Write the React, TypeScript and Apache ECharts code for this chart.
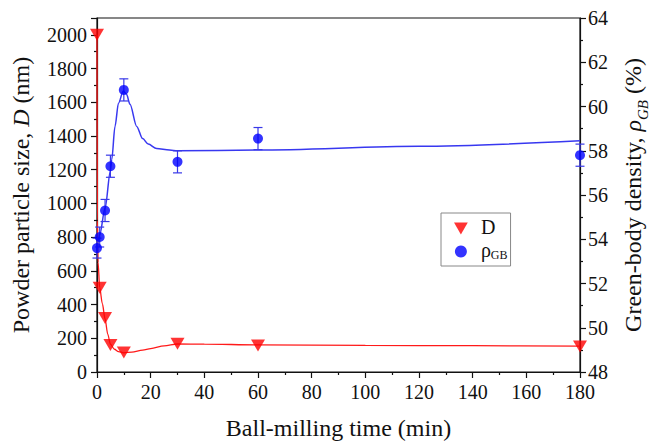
import React, { useEffect, useRef } from "react";
import * as echarts from "echarts";

const times = [0, 1, 3, 5, 10, 30, 60, 180];
const particleSize = [2000, 500, 320, 160, 115, 168, 157, 152];
const density = [53.6, 54.1, 55.3, 57.3, 60.75, 57.5, 58.55, 57.8];
const densityErr = [0.45, 0.45, 0.5, 0.5, 0.5, 0.5, 0.5, 0.5];

const sizeFitTimes = [0, 0.15, 0.4, 1, 2, 3, 4, 5, 6.5, 8, 10, 13, 17, 20, 25, 30, 40, 60, 100, 140, 180];
const sizeFitValues = [2000, 900, 650, 500, 405, 315, 225, 165, 135, 121, 114, 118, 130, 139, 155, 166, 165, 161, 158, 156, 154];

const densityFitTimes = [0, 1, 3, 5, 5.5, 6.7, 8, 9.8, 11, 12.3, 14.8, 17, 19.1, 22.2, 27, 30, 60, 120, 180];
const densityFitValues = [53.5, 54.2, 55.4, 57.1, 57.6, 59.1, 60.15, 60.7, 60.55, 60.1, 59.1, 58.55, 58.3, 58.1, 58.03, 58.0, 58.03, 58.2, 58.45];

const FONT = "Times New Roman";
const TRI = "path://M0,0L10,0L5,8.7Z";
const RED = "#ff0000";
const BLUE = "#0000ff";
const plain = (v: number) => String(v);
const TXT = "#111111";

export default function App() {
  const ref = useRef<HTMLDivElement>(null);
  useEffect(() => {
    if (!ref.current) return;
    const chart = echarts.init(ref.current, null, { renderer: "svg" });
    const lineStyle = { color: TXT, width: 1.2 };
    const tickLabel = { color: TXT, fontSize: 20, fontFamily: FONT, formatter: plain };
    chart.setOption({
      animation: false,
      grid: {
        left: 97, right: 75, top: 18, bottom: 70,
        outerBoundsMode: "none",
        show: true, borderColor: TXT, borderWidth: 1.2,
      },
      legend: {
        data: [
          { name: "D", icon: TRI },
          { name: "rho", icon: "circle" },
        ],
        orient: "vertical",
        left: 441,
        top: 213,
        padding: [4, 3, 3, 13],
        itemGap: 0,
        itemWidth: 14,
        itemHeight: 12,
        borderColor: "#888888",
        borderWidth: 1,
        formatter: (n: string) => (n === "D" ? "{t|D}" : "{t|ρ}{s|GB}"),
        textStyle: {
          color: TXT,
          fontFamily: FONT,
          fontSize: 20,
          rich: {
            t: { fontSize: 20, fontFamily: FONT, color: TXT, lineHeight: 18, padding: [0, 0, 3, 8] },
            s: { fontSize: 12, fontFamily: FONT, color: TXT, lineHeight: 12, verticalAlign: "bottom" },
          },
        },
      },
      xAxis: {
        type: "value",
        min: 0,
        max: 180,
        interval: 20,
        name: "Ball-milling time (min)",
        nameLocation: "middle",
        nameGap: 44,
        nameTextStyle: { fontSize: 24, fontFamily: FONT, color: TXT },
        axisLine: { lineStyle },
        axisTick: { show: true, length: 6, lineStyle },
        minorTick: { show: true, splitNumber: 2, length: 3, lineStyle },
        splitLine: { show: false },
        axisLabel: { ...tickLabel, margin: 10 },
      },
      yAxis: [
        {
          type: "value",
          min: 0,
          max: 2100,
          interval: 200,
          position: "left",
          name: "{a|Powder particle size, }{i|D}{a| (nm)}",
          nameLocation: "middle",
          nameRotate: 90,
          nameGap: 64,
          nameTextStyle: {
            fontSize: 24,
            fontFamily: FONT,
            color: TXT,
            rich: {
              a: { fontSize: 24, fontFamily: FONT, color: TXT },
              i: { fontSize: 24, fontFamily: FONT, color: TXT, fontStyle: "italic" },
            },
          },
          axisLine: { show: true, lineStyle },
          axisTick: { show: true, length: 6, lineStyle },
          minorTick: { show: true, splitNumber: 2, length: 3, lineStyle },
          splitLine: { show: false },
          axisLabel: { ...tickLabel, margin: 10, showMaxLabel: false },
        },
        {
          type: "value",
          min: 48,
          max: 64,
          interval: 2,
          position: "right",
          name: "{a|Green-body density, }{i|ρ}{s|GB}{a| (%)}",
          nameLocation: "middle",
          nameRotate: 90,
          nameGap: 41,
          nameTextStyle: {
            fontSize: 24,
            fontFamily: FONT,
            color: TXT,
            rich: {
              a: { fontSize: 24, fontFamily: FONT, color: TXT, padding: [0, 0, 5, 0] },
              i: { fontSize: 24, fontFamily: FONT, color: TXT, fontStyle: "italic", padding: [0, 0, 5, 0] },
              s: { fontSize: 15, fontFamily: FONT, color: TXT, fontStyle: "italic", verticalAlign: "bottom" },
            },
          },
          axisLine: { show: true, lineStyle },
          axisTick: { show: true, length: 6, lineStyle },
          minorTick: { show: true, splitNumber: 2, length: 3, lineStyle },
          splitLine: { show: false },
          axisLabel: { ...tickLabel, margin: 8 },
        },
      ],
      series: [
        {
          name: "D fit",
          type: "line",
          yAxisIndex: 0,
          data: sizeFitTimes.map((t, i) => [t, sizeFitValues[i]]),
          smooth: 0.3,
          smoothMonotone: "x",
          showSymbol: false,
          symbol: "none",
          clip: false,
          lineStyle: { color: "#ff1a1a", width: 1.3 },
          z: 2,
        },
        {
          name: "D",
          type: "scatter",
          yAxisIndex: 0,
          data: times.map((t, i) => [t, particleSize[i]]),
          symbol: TRI,
          symbolSize: [14, 12],
          itemStyle: { color: RED },
          clip: false,
          z: 4,
        },
        {
          name: "rho fit",
          type: "line",
          yAxisIndex: 1,
          data: densityFitTimes.map((t, i) => [t, densityFitValues[i]]),
          smooth: 0.3,
          smoothMonotone: "x",
          showSymbol: false,
          symbol: "none",
          clip: false,
          lineStyle: { color: "#3838f0", width: 1.5 },
          z: 2,
        },
        {
          name: "rho err",
          type: "custom",
          yAxisIndex: 1,
          clip: false,
          data: times.map((t, i) => [t, density[i] - densityErr[i], density[i] + densityErr[i]]),
          encode: { x: 0, y: [1, 2] },
          renderItem: (params: any, api: any) => {
            const x = api.value(0);
            const top = api.coord([x, api.value(2)]);
            const bot = api.coord([x, api.value(1)]);
            const w = 4.5;
            const style = { stroke: "#3838e8", lineWidth: 1.2 };
            return {
              type: "group",
              children: [
                { type: "line", shape: { x1: top[0], y1: top[1], x2: bot[0], y2: bot[1] }, style },
                { type: "line", shape: { x1: top[0] - w, y1: top[1], x2: top[0] + w, y2: top[1] }, style },
                { type: "line", shape: { x1: bot[0] - w, y1: bot[1], x2: bot[0] + w, y2: bot[1] }, style },
              ],
            };
          },
          z: 3,
        },
        {
          name: "rho",
          type: "scatter",
          yAxisIndex: 1,
          data: times.map((t, i) => [t, density[i]]),
          symbol: "circle",
          symbolSize: 10,
          itemStyle: { color: BLUE },
          clip: false,
          z: 4,
        },
      ],
    });
    return () => chart.dispose();
  }, []);
  return <div ref={ref} style={{ width: 655, height: 442, position: "absolute", left: 0, top: 0 }} />;
}
